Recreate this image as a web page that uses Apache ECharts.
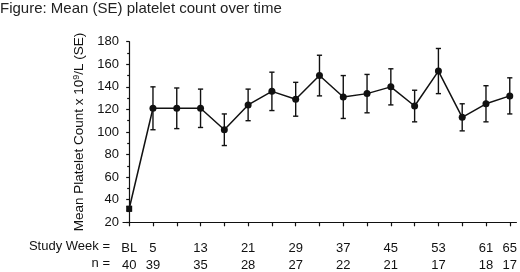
<!DOCTYPE html>
<html>
<head>
<meta charset="utf-8">
<script src="https://cdn.jsdelivr.net/npm/echarts@6/dist/echarts.min.js"></script>
<style>
  html, body { margin: 0; background: #fff; }
  #chart { width: 520px; height: 272px; }
</style>
</head>
<body>
<div id="chart"></div>
<script>
// study weeks, every 4 weeks from baseline
const weeks = ["BL", "5", "9", "13", "17", "21", "25", "29", "33", "37", "41", "45", "49", "53", "57", "61", "65"];
const means = [32, 121, 121, 121, 102, 124, 136, 129, 150, 131, 134, 140, 123, 154, 113, 125, 132];
const se = [2, 19, 18, 17, 14, 14, 17, 15, 18, 19, 17, 16, 14, 20, 12, 16, 16];

// weeks that get a label, with the number of patients
const labelledWeeks = ["BL", "5", "13", "21", "29", "37", "45", "53", "61", "65"];
const nPatients = [40, 39, 35, 28, 27, 22, 21, 17, 18, 17];

const FONT = "Liberation Sans";
const INK = "#111";

const chart = echarts.init(document.getElementById("chart"));

const labelIdx = labelledWeeks.map((w) => weeks.indexOf(w));
const nByIdx = {};
labelIdx.forEach((idx, k) => { nByIdx[idx] = nPatients[k]; });

const barStyle = { stroke: INK, lineWidth: 1.4 };

chart.setOption({
    animation: false,
    backgroundColor: "#fff",
    title: {
        text: "Figure: Mean (SE) platelet count over time",
        left: 0,
        top: 1,
        padding: 0,
        textStyle: { fontFamily: FONT, fontSize: 15, fontWeight: "normal", color: "#222" },
    },
    grid: { left: 123, right: 0, top: 41.7, bottom: 49.7 },
    xAxis: {
        type: "value",
        min: -0.26,
        max: 16.28,
        splitLine: { show: false },
        axisLine: { lineStyle: { color: INK, width: 1.2 } },
        axisTick: {
            customValues: weeks.map((_, i) => i),
            length: 4,
            lineStyle: { color: INK, width: 1.2 },
        },
        axisLabel: {
            customValues: labelIdx,
            margin: 18,
            formatter: (v) => `{w|${weeks[v]}}\n{w|${nByIdx[v]}}`,
            rich: {
                w: { fontFamily: FONT, fontSize: 13, color: INK, lineHeight: 16.6 },
            },
        },
    },
    yAxis: {
        type: "value",
        min: 20,
        max: 180,
        interval: 20,
        name: "Mean Platelet Count x 10{s|9}/L (SE)",
        nameLocation: "middle",
        nameGap: 36,
        nameTextStyle: {
            fontFamily: FONT,
            fontSize: 13.5,
            color: INK,
            rich: {
                s: { fontFamily: FONT, fontSize: 9, color: INK, verticalAlign: "top", padding: [0, 0, 6, 0] },
            },
        },
        splitLine: { show: false },
        axisLine: { show: true, lineStyle: { color: INK, width: 1.2 } },
        axisTick: { length: 3, lineStyle: { color: INK, width: 1.2 } },
        minorTick: { show: true, splitNumber: 2, length: 2, lineStyle: { color: INK, width: 1.2 } },
        axisLabel: { fontFamily: FONT, fontSize: 13, color: INK, margin: 4 },
    },
    graphic: [
        {
            type: "text", right: 410, top: 240,
            style: { text: "Study Week =", font: `13px "${FONT}"`, fill: INK, textAlign: "right" },
        },
        {
            type: "text", right: 410, top: 257,
            style: { text: "n =", font: `13px "${FONT}"`, fill: INK, textAlign: "right" },
        },
    ],
    series: [
        {
            type: "custom",
            data: means.map((m, i) => [i, m - se[i], m + se[i]]),
            renderItem: (params, api) => {
                const x = api.value(0);
                const bot = api.coord([x, api.value(1)]);
                const top = api.coord([x, api.value(2)]);
                const w = 2.6;
                return {
                    type: "group",
                    children: [
                        { type: "line", shape: { x1: top[0], y1: top[1], x2: bot[0], y2: bot[1] }, style: barStyle },
                        { type: "line", shape: { x1: top[0] - w, y1: top[1], x2: top[0] + w, y2: top[1] }, style: barStyle },
                        { type: "line", shape: { x1: bot[0] - w, y1: bot[1], x2: bot[0] + w, y2: bot[1] }, style: barStyle },
                    ],
                };
            },
            z: 2,
        },
        {
            type: "line",
            data: means.map((m, i) => ({
                value: [i, m],
                symbol: i === 0 ? "rect" : "circle",
                symbolSize: i === 0 ? 6 : 7,
            })),
            lineStyle: { color: INK, width: 1.5 },
            itemStyle: { color: INK },
            z: 3,
        },
    ],
});
</script>
</body>
</html>
